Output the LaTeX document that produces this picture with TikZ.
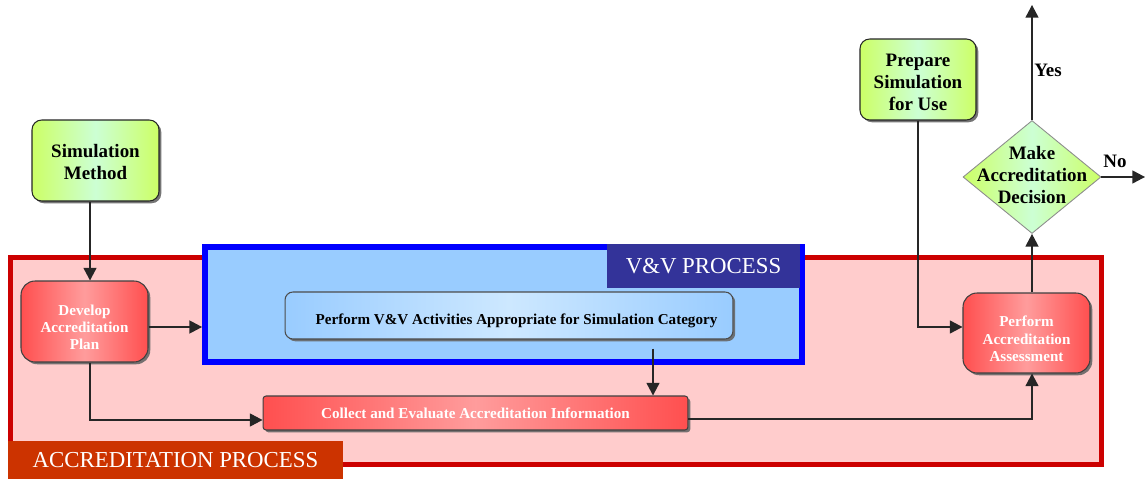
\documentclass[tikz,border=0pt]{standalone}
\usepackage{fontspec}
\setmainfont{Liberation Serif}
\usetikzlibrary{arrows.meta,shapes.geometric,shadows,calc}

\definecolor{accfill}{HTML}{FFCCCC}
\definecolor{accline}{HTML}{CC0000}
\definecolor{vvfill}{HTML}{99CCFF}
\definecolor{vvline}{HTML}{0000FF}
\definecolor{vvtag}{HTML}{333399}
\definecolor{acctag}{HTML}{CC3300}
\definecolor{redEdge}{HTML}{FF4F4F}
\definecolor{redMid}{HTML}{FF9C9C}
\definecolor{grnEdge}{HTML}{CCFF66}
\definecolor{grnMid}{HTML}{CCFFD4}
\definecolor{bluEdge}{HTML}{99CCFF}
\definecolor{bluMid}{HTML}{CDE8FF}

\begin{document}
\begin{tikzpicture}[x=0.02cm,y=-0.02cm,
  bigfont/.style={font=\bfseries\fontsize{10.8}{12.5}\selectfont},
  smallfont/.style={font=\bfseries\fontsize{8.6}{9.9}\selectfont},
  boxshadow/.style={drop shadow={shadow xshift=1.3pt,shadow yshift=-1.3pt,fill=black!60,opacity=0.9}},
  greenbox/.style={bigfont,draw=black!85,line width=0.6pt,rounded corners=5.5pt,
    left color=grnEdge,right color=grnEdge,middle color=grnMid,
    boxshadow,align=center,inner sep=0pt},
  redbox/.style={smallfont,text=white,draw=black!75,line width=0.6pt,
    left color=redEdge,right color=redEdge,middle color=redMid,
    boxshadow,align=center,inner sep=0pt},
  bluebox/.style={smallfont,draw=black!70,line width=0.6pt,rounded corners=4.5pt,
    left color=bluEdge,right color=bluEdge,middle color=bluMid,
    boxshadow,align=center,inner sep=0pt},
  decision/.style={diamond,draw=black!45,line width=0.5pt,inner sep=0pt,
    left color=grnEdge,right color=grnEdge,middle color=grnMid,
    minimum width=2.76cm,minimum height=2.26cm},
  accarea/.style={draw=accline,fill=accfill,line width=2.8pt,inner sep=0pt},
  vvarea/.style={draw=vvline,fill=vvfill,line width=3.4pt,inner sep=0pt},
  tagbox/.style={text=white,inner sep=0pt,font=\fontsize{13}{15}\selectfont},
  lbl/.style={bigfont,inner sep=0pt},
  arr/.style={draw=black!85,line width=0.75pt,-{Triangle[length=7.2pt,width=7.4pt]}}
]
\useasboundingbox (0,0) rectangle (1146,479);

% process containers
\node[accarea,minimum width=21.82cm,minimum height=4.14cm] (acc) at (556,361) {};
\node[vvarea,minimum width=11.94cm,minimum height=2.3cm] (vv) at (503.5,304.5) {};
\node[tagbox,fill=vvtag,minimum width=3.86cm,minimum height=0.88cm] (vvtagnode) at (703.5,266) {V\&V PROCESS};
\node[tagbox,fill=acctag,minimum width=6.7cm,minimum height=0.78cm] (acctagnode) at (175.5,460) {ACCREDITATION PROCESS};

% activity boxes (a leading strut lowers the text inside a box)
\node[greenbox,minimum width=2.54cm,minimum height=1.62cm] (sim) at (95.5,160.5) {\rule{0pt}{9.5pt}Simulation\\Method};
\node[greenbox,minimum width=2.32cm,minimum height=1.62cm] (prep) at (918,79.5) {\rule{0pt}{10pt}Prepare\\Simulation\\for Use};
\node[redbox,rounded corners=8pt,minimum width=2.54cm,minimum height=1.62cm] (dev) at (84.5,321.5) {\rule{0pt}{12.5pt}Develop\\Accreditation\\Plan};
\node[bluebox,minimum width=8.96cm,minimum height=0.94cm] (pv) at (509,315.5) {\rule{0pt}{12pt}\hspace*{0.3cm}Perform V\&V Activities Appropriate for Simulation Category};
\node[redbox,rounded corners=1.7pt,minimum width=8.5cm,minimum height=0.68cm] (col) at (475.5,413) {Collect and Evaluate Accreditation Information};
\node[redbox,rounded corners=8pt,minimum width=2.54cm,minimum height=1.6cm] (asm) at (1026.5,333) {\rule{0pt}{13pt}Perform\\Accreditation\\Assessment};
\node[decision] (dec) at (1032,177) {};
\node[bigfont,align=center,inner sep=0pt] (dectext) at (1032,175) {Make\\Accreditation\\Decision};

% routing helpers
\coordinate (xa) at (90,0);
\coordinate (xb) at (653,0);
\coordinate (xc) at (918,0);
\coordinate (xd) at (1032,0);
\coordinate (ya) at (0,327);
\coordinate (yb) at (0,420);
\coordinate (yc) at (0,419);
\coordinate (yesend) at (1032,5);
\coordinate (noend) at (1145,177);

% connectors
\draw[arr] (sim.south -| xa) -- (dev.north -| xa);
\draw[arr] (dev.east |- ya) -- (vv.west |- ya);
\draw[arr] (dev.south -| xa) |- (col.west |- yb);
\draw[arr] ($(pv.south -| xb)+(0,9)$) -- (col.north -| xb);
\draw[arr] (col.east |- yc) -| (asm.south -| xd);
\draw[arr] (prep.south -| xc) |- (asm.west |- ya);
\draw[arr] (asm.north -| xd) -- (dec.south);
\draw[arr] (dec.north) -- (yesend);
\draw[arr] (dec.east) -- (noend);

% decision outcomes
\node[lbl,anchor=west] (yes) at (1034,70) {Yes};
\node[lbl,anchor=west] (no) at (1103,161) {No};
\end{tikzpicture}
\end{document}
